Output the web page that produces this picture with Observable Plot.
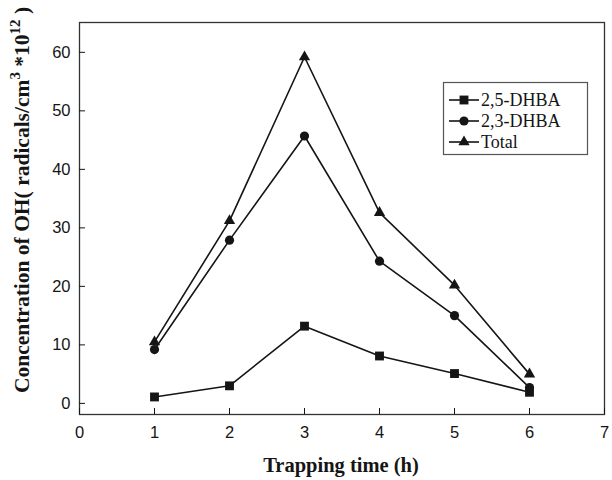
<!DOCTYPE html>
<html>
<head>
<meta charset="utf-8">
<script src="https://cdn.jsdelivr.net/npm/d3@7"></script>
<script src="https://cdn.jsdelivr.net/npm/@observablehq/plot@0.6"></script>
<style>
  html, body { margin: 0; padding: 0; background: #fff; }
</style>
</head>
<body>
<div id="chart"></div>
<script>
// ---- data ----
const hours = [1, 2, 3, 4, 5, 6];
const dhba25 = [1.1, 3.0, 13.2, 8.1, 5.1, 1.9];
const dhba23 = [9.2, 27.9, 45.7, 24.3, 15.0, 2.7];
const total = [10.5, 31.2, 59.2, 32.6, 20.2, 5.0];
const seriesNames = ["2,5-DHBA", "2,3-DHBA", "Total"];
const seriesSymbols = ["square", "circle", "triangle"];
const xTicks = [0, 1, 2, 3, 4, 5, 6, 7];
const yTicks = [0, 10, 20, 30, 40, 50, 60];

const seriesValues = [dhba25, dhba23, total];
const symbolR = [5, 4.6, 4.2];
const series = seriesNames.map((name, i) =>
  hours.map((h, j) => ({ series: name, x: h, y: seriesValues[i][j] }))
);
const all = series.flat();

const ink = "#151515";
const serif = "'Liberation Serif', 'Times New Roman', serif";

const chart = Plot.plot({
  width: 612,
  height: 480,
  marginLeft: 79,
  marginRight: 8,
  marginTop: 22,
  marginBottom: 66,
  x: { domain: [0, 7] },
  y: { domain: [-1.9, 65.1] },
  style: { fontFamily: "'Liberation Sans', Arial, sans-serif", fontSize: "16px", color: ink, background: "#fff" },
  marks: [
    Plot.frame({ stroke: "#333", strokeWidth: 1.3 }),
    Plot.axisX({ ticks: xTicks, tickSize: -6, text: null, label: null, stroke: ink }),
    Plot.axisX({ ticks: xTicks, tickSize: 0, tickPadding: 12, label: null, fontSize: 16.5, tickFormat: d3.format("d") }),
    Plot.axisY({ ticks: yTicks, tickSize: -6, text: null, label: null, stroke: ink }),
    Plot.axisY({ ticks: yTicks, tickSize: 0, tickPadding: 9, label: null, fontSize: 16.5, tickFormat: d3.format("d") }),
    Plot.line(all, { x: "x", y: "y", z: "series", stroke: ink, strokeWidth: 1.6 }),
    ...series.map((d, i) => Plot.dot(d, { x: "x", y: "y", symbol: () => seriesSymbols[i], r: symbolR[i], fill: ink, stroke: "none" }))
  ]
});

document.getElementById("chart").appendChild(chart);

const svg = d3.select(chart);

// axis titles
svg.append("text")
  .attr("x", 341)
  .attr("y", 472)
  .attr("text-anchor", "middle")
  .attr("font-family", serif)
  .attr("font-weight", "bold")
  .attr("font-size", 20.5)
  .attr("fill", ink)
  .text("Trapping time (h)");

const yl = svg.append("text")
  .attr("transform", "translate(29,200) rotate(-90)")
  .attr("text-anchor", "middle")
  .attr("font-family", serif)
  .attr("font-weight", "bold")
  .attr("font-size", 21.5)
  .attr("fill", ink);
yl.append("tspan").text("Concentration of OH( radicals/cm");
yl.append("tspan").attr("dy", -9).attr("font-size", 15).text("3");
yl.append("tspan").attr("dy", 9).text(" *10");
yl.append("tspan").attr("dy", -9).attr("font-size", 15).text("12");
yl.append("tspan").attr("dy", 9).text(" )");

// legend
const lg = svg.append("g");
lg.append("rect")
  .attr("x", 443.5).attr("y", 82.5)
  .attr("width", 144).attr("height", 72)
  .attr("fill", "#fff").attr("stroke", "#555").attr("stroke-width", 1.2);
const rowY = [100, 121, 142];
seriesNames.forEach((name, i) => {
  const y = rowY[i];
  lg.append("line")
    .attr("x1", 449).attr("x2", 479).attr("y1", y).attr("y2", y)
    .attr("stroke", ink).attr("stroke-width", 1.6);
  const sym = { square: d3.symbolSquare, circle: d3.symbolCircle, triangle: d3.symbolTriangle }[seriesSymbols[i]];
  lg.append("path")
    .attr("transform", `translate(464,${y})`)
    .attr("d", d3.symbol(sym, Math.PI * symbolR[i] * symbolR[i])())
    .attr("fill", ink);
  lg.append("text")
    .attr("x", 481).attr("y", y + 6)
    .attr("text-anchor", "start")
    .attr("font-family", serif)
    .attr("font-size", 18)
    .attr("fill", ink)
    .text(name);
});
</script>
</body>
</html>
